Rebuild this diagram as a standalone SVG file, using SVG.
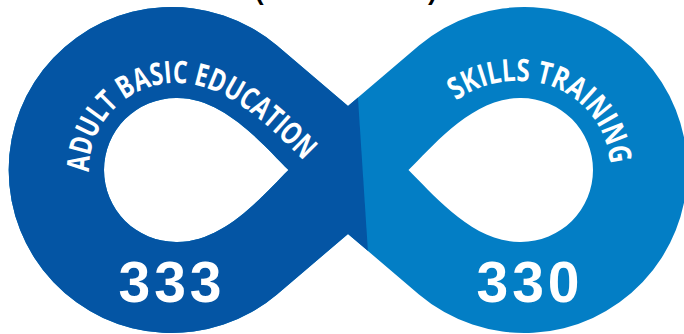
<svg xmlns="http://www.w3.org/2000/svg" width="684" height="334" viewBox="0 0 684 334">
<style>
.dark{fill:#0455a4}
.light{fill:#037ec5}
.lbl{fill:#ffffff;font-family:"Open Sans","Noto Sans",sans-serif;font-weight:700;font-size:31px}
.num{fill:#ffffff;font-family:"Liberation Sans",Arial,sans-serif;font-weight:bold;font-size:57px;letter-spacing:4px;text-anchor:middle}
.par{fill:#000000;font-family:"Liberation Sans",Arial,sans-serif;font-weight:bold;font-size:26px}
</style>
<defs>
<path id="shape" fill-rule="evenodd" d="M348,106 L419,45.6 A163,163 0 1 1 419,294.4 L348,234 L277,294.4 A163,163 0 1 1 277,45.6 Z M288.5,170 C264,146 224,97 176,98 A72,72 0 0 0 176,242 C224,243 264,194 288.5,170 Z M408.5,170 C433,146 473,97 521,98 A72,72 0 0 1 521,242 C473,243 433,194 408.5,170 Z"/>
<clipPath id="leftClip"><polygon points="0,0 351.6,0 373.3,334 0,334"/></clipPath>
<path id="pL" d="M89,172 A87,87 0 0 1 176,83 C222,83 262,118 308,165"/>
<path id="pR" d="M456,101 Q485,80 521,81 A89,89 0 0 1 610,170"/>
</defs>
<text class="par" x="255" y="-0.5">(</text>
<text class="par" x="428" y="-0.5">)</text>
<g id="skills-training">
<use href="#shape" class="light" fill-rule="evenodd"/>
<text class="lbl"><textPath href="#pR" textLength="203" lengthAdjust="spacingAndGlyphs">SKILLS TRAINING</textPath></text>
<text class="num" x="530" y="302">330</text>
</g>
<g id="adult-basic-education">
<use href="#shape" class="dark" fill-rule="evenodd" clip-path="url(#leftClip)"/>
<text class="lbl"><textPath href="#pL" textLength="292" lengthAdjust="spacingAndGlyphs">ADULT BASIC EDUCATION</textPath></text>
<text class="num" x="172" y="302">333</text>
</g>
<g id="connectors"/>
</svg>
